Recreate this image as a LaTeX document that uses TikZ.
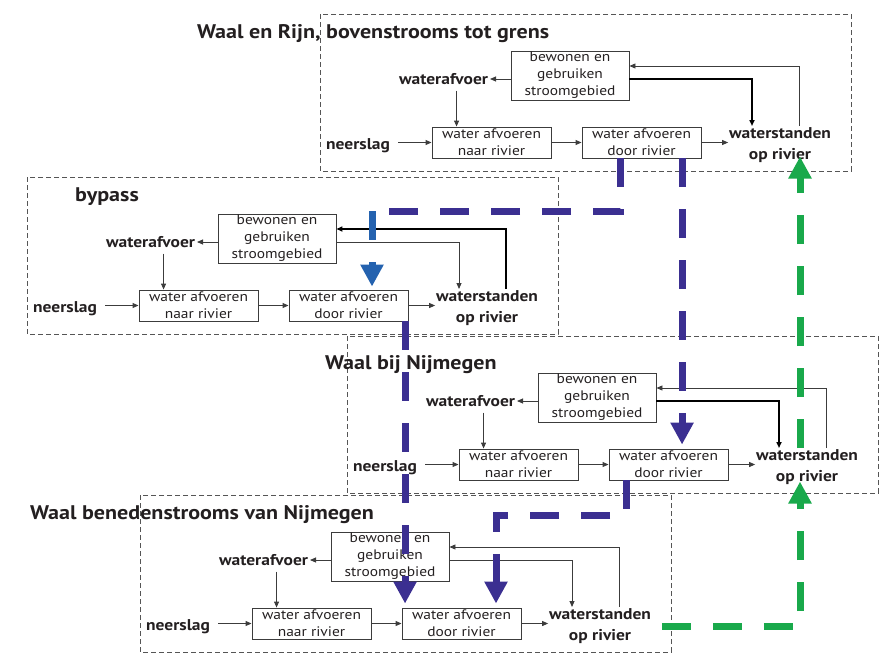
\documentclass[tikz,border=0pt]{standalone}
\usepackage{fontspec}
\setmainfont[FakeStretch=1.12]{PT Sans}
\usetikzlibrary{arrows.meta}
\definecolor{ink}{HTML}{231F20}
\definecolor{lineg}{HTML}{3C3C3C}
\definecolor{frameg}{HTML}{555555}
\definecolor{flowviolet}{HTML}{3B2F91}
\definecolor{flowblue}{HTML}{2462AF}
\definecolor{flowgreen}{HTML}{19A94B}
\tikzset{
  procbox/.style={draw=lineg, line width=0.9pt, minimum width=119pt, minimum height=31pt,
    inner sep=0pt, align=center, text=ink, font=\fontsize{13.8}{16.7}\selectfont},
  usebox/.style={procbox, minimum width=118pt, minimum height=49pt,
    font=\fontsize{13.8}{17}\selectfont},
  lbl/.style={font=\fontsize{15.6}{18}\selectfont\bfseries, text=ink, inner sep=0pt},
  wsnode/.style={lbl, align=center, font=\fontsize{15.6}{20.5}\selectfont\bfseries,
    anchor=north, outer ysep=2pt, outer xsep=1pt},
  paneltitle/.style={font=\fontsize{19.7}{22}\selectfont\bfseries, text=ink,
    inner sep=0pt, anchor=base west},
  panelframe/.style={draw=frameg, line width=1pt, dash pattern=on 5pt off 3pt},
  thinarrow/.style={draw=lineg, line width=0.9pt, -{Triangle[length=6pt,width=5pt]}},
  heavyline/.style={draw=black, line width=1.6pt},
  bigdash/.style={line width=7pt, dash pattern=on 29pt off 22pt},
  bigflow/.style={bigdash, -{Triangle[length=22pt,width=22pt]}},
}
% one river-section panel: #1 name prefix, #2/#3 offset,
% #4/#5 extra style for the upper and lower feedback lines
\newcommand\riverpanel[5]{%
\begin{scope}[shift={(#2,#3)}]
  \draw[panelframe] (320,14) rectangle (851,171);
  \node[usebox] (#1-use) at (570,75.5) {bewonen en\\gebruiken\\stroomgebied};
  \node[lbl, anchor=east, outer xsep=2pt, outer ysep=6pt] (#1-afv) at (490,79) {waterafvoer};
  \node[lbl, anchor=east, outer xsep=8pt] (#1-rain) at (398,145.5) {neerslag};
  \node[procbox] (#1-naar) at (491.5,142.5) {water afvoeren\\naar rivier};
  \node[procbox] (#1-door) at (641.5,142.5) {water afvoeren\\door rivier};
  \node[wsnode] (#1-ws) at (780,126) {waterstanden\\op rivier};
  \coordinate (#1-up) at (799,66);
  \coordinate (#1-dn) at (752,79);
  \coordinate (#1-drop) at ([xshift=25pt]#1-naar.north west);
  \draw[thinarrow] (#1-use.west |- #1-afv.east) -- (#1-afv.east);
  \draw[thinarrow] (#1-drop |- #1-afv.south) -- (#1-drop);
  \draw[thinarrow] (#1-naar.west -| #1-rain.east) -- (#1-naar.west);
  \draw[thinarrow] (#1-naar.east) -- (#1-door.west);
  \draw[thinarrow] (#1-door.east) -- (#1-door.east -| #1-ws.west);
  \draw[thinarrow, #4] (#1-up |- #1-ws.north) -- (#1-up) -- (#1-up -| #1-use.east);
  \draw[thinarrow, #5] (#1-dn -| #1-use.east) -- (#1-dn) -- (#1-dn |- #1-ws.north);
\end{scope}}

\begin{document}
\begin{tikzpicture}[x=1pt, y=-1pt]
  \useasboundingbox (0,0) rectangle (888,653);

  \riverpanel{p1}{0}{0}{}{heavyline}
  \riverpanel{p2}{-293}{163}{heavyline}{}
  \riverpanel{p3}{27}{322}{}{heavyline}
  \riverpanel{p4}{-180}{481}{}{}

  \node[paneltitle] (t1) at (197,38) {Waal en Rijn, bovenstrooms tot grens};
  \node[paneltitle] (t2) at (75,201) {bypass};
  \node[paneltitle] (t3) at (325,369) {Waal bij Nijmegen};
  \node[paneltitle] (t4) at (30,519) {Waal benedenstrooms van Nijmegen};

  % flows between the sections
  \coordinate (jA) at (372,211);
  \draw[bigdash, draw=flowviolet] ([xshift=39pt]p1-door.south west) |- (jA);
  \draw[bigflow, draw=flowblue, shorten >=3pt] (jA) -- (jA |- p2-door.north);

  \draw[bigflow, draw=flowviolet, shorten >=4pt]
    ([xshift=100.5pt]p1-door.south west) -- ([xshift=73.5pt]p3-door.north west);
  \draw[bigflow, draw=flowviolet, shorten >=4pt]
    ([xshift=116.5pt]p2-door.south west) -- ([xshift=3.5pt]p4-door.north west);

  \coordinate (jD) at (496,515);
  \draw[bigflow, draw=flowviolet, shorten >=4pt]
    ([xshift=18pt]p3-door.south west) |- (jD) -- (jD |- p4-door.north);

  % water levels passed back upstream
  \coordinate (gC) at (800,626);
  \draw[bigflow, draw=flowgreen, shorten >=-5pt]
    ([xshift=10pt]p4-ws.east |- gC) -- (gC) -- (gC |- p3-ws.south);
  \draw[bigflow, draw=flowgreen, shorten >=-8pt]
    (gC |- p3-ws.north) -- (gC |- p1-ws.south);
\end{tikzpicture}
\end{document}
